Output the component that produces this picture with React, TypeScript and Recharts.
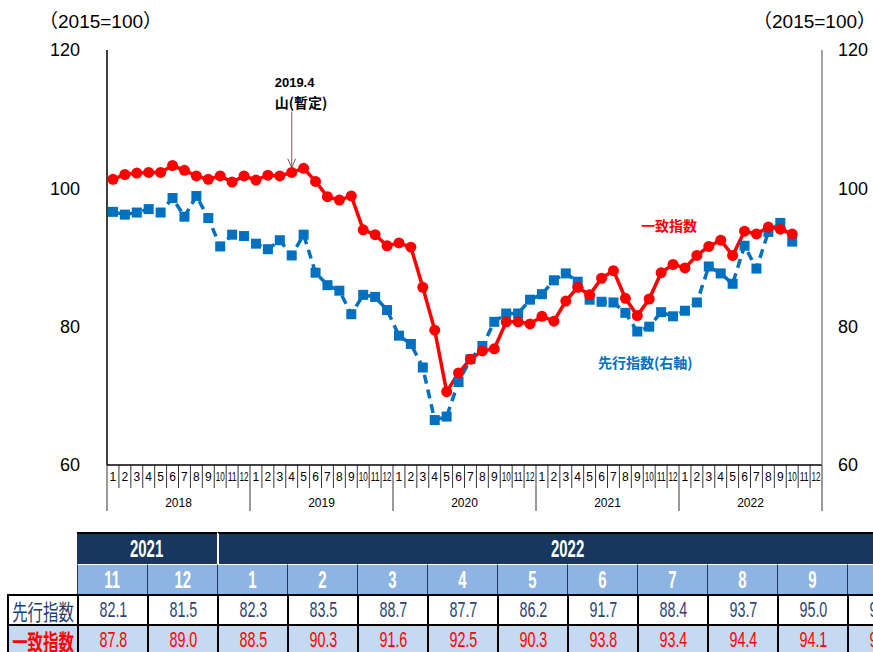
import { Line, LineChart, ReferenceDot, XAxis, YAxis } from 'recharts';

const years = [2018, 2019, 2020, 2021, 2022];
const monthNumbers = [1, 2, 3, 4, 5, 6, 7, 8, 9, 10, 11, 12];

// 一致指数 (left axis)
const coincident2018 = [101.3, 102.0, 102.2, 102.3, 102.3, 103.3, 102.6, 101.8, 101.3, 101.8, 100.9, 101.8];
const coincident2019 = [101.2, 101.9, 101.8, 102.3, 102.9, 101.0, 98.8, 98.3, 98.9, 94.0, 93.3, 91.7];
const coincident2020 = [92.1, 91.5, 85.7, 79.5, 70.6, 73.3, 75.3, 76.5, 76.8, 80.7, 80.7, 80.4];
const coincident2021 = [81.5, 80.8, 83.7, 85.7, 84.6, 87.0, 88.1, 84.1, 81.6, 84.0, 87.8, 89.0];
const coincident2022 = [88.5, 90.3, 91.6, 92.5, 90.3, 93.8, 93.4, 94.4, 94.1, 93.4];

// 先行指数 (right axis)
const leading2018 = [96.6, 96.2, 96.5, 97.0, 96.5, 98.6, 95.9, 98.9, 95.7, 91.6, 93.3, 93.1];
const leading2019 = [92.0, 91.2, 92.5, 90.3, 93.3, 87.8, 86.0, 85.2, 81.8, 84.6, 84.3, 82.4];
const leading2020 = [78.7, 77.5, 74.1, 66.5, 67.0, 72.0, 75.3, 77.2, 80.7, 81.9, 81.9, 83.9];
const leading2021 = [84.7, 86.7, 87.7, 86.5, 83.9, 83.6, 83.5, 82.0, 79.3, 80.0, 82.1, 81.5];
const leading2022 = [82.3, 83.5, 88.7, 87.7, 86.2, 91.7, 88.4, 93.7, 95.0, 92.3];

const yTicks = [60, 80, 100, 120];

const tableYears = [
  { label: '2021', span: 2 },
  { label: '2022', span: 10 },
];
const tableMonths = ['11', '12', '1', '2', '3', '4', '5', '6', '7', '8', '9', '10'];

const coincidentAll = [...coincident2018, ...coincident2019, ...coincident2020, ...coincident2021, ...coincident2022];
const leadingAll = [...leading2018, ...leading2019, ...leading2020, ...leading2021, ...leading2022];

const chartData = years.flatMap((year, yi) =>
  monthNumbers.map((month, mi) => {
    const i = yi * 12 + mi;
    return {
      key: `${year}-${month}`,
      coincident: coincidentAll[i] ?? null,
      leading: leadingAll[i] ?? null,
    };
  }),
);

const tableLeading = leadingAll.slice(-12);
const tableCoincident = coincidentAll.slice(-12);

const CHART_W = 873;
const CHART_H = 525;
const Y_LEFT_W = 107;
const Y_RIGHT_W = 51;
const BAND = (CHART_W - Y_LEFT_W - Y_RIGHT_W) / chartData.length;

const RED = '#ff0000';
const BLUE = '#0070c0';
const LATIN = '"Liberation Sans", Arial, "Noto Sans CJK JP", sans-serif';
const CJK = '"Noto Sans CJK JP", sans-serif';

function MonthTick(props: any) {
  const { x, y, payload } = props;
  const [year, month] = String(payload.value).split('-').map(Number);
  const left = x - BAND / 2;
  const isLast = year === years[years.length - 1] && month === 12;
  return (
    <g>
      <line x1={left} x2={left} y1={y} y2={y + (month === 1 ? 46 : 23)} stroke="#000" strokeWidth={0.8} />
      {isLast && <line x1={x + BAND / 2} x2={x + BAND / 2} y1={y} y2={y + 46} stroke="#000" strokeWidth={0.8} />}
      <text
        x={x}
        y={y + 16}
        textAnchor="middle"
        fontSize={12}
        fontFamily={LATIN}
        fill="#000"
        {...(month >= 10 ? { textLength: 9, lengthAdjust: 'spacingAndGlyphs' } : {})}
      >
        {month}
      </text>
      {month === 6 && (
        <text x={x + BAND / 2} y={y + 42} textAnchor="middle" fontSize={12} fontFamily={LATIN} fill="#000">
          {year}
        </text>
      )}
    </g>
  );
}

function SquareDot(props: any) {
  const { cx, cy, index } = props;
  if (cx == null || cy == null || props.value == null) return <g key={`s${index}`} />;
  return <rect key={`s${index}`} x={cx - 5} y={cy - 5} width={10} height={10} fill={BLUE} />;
}

function CircleDot(props: any) {
  const { cx, cy, index } = props;
  if (cx == null || cy == null || props.value == null) return <g key={`c${index}`} />;
  return <circle key={`c${index}`} cx={cx} cy={cy} r={5.5} fill={RED} />;
}

function PeakMarker(props: any) {
  const { cx, cy } = props;
  return (
    <g>
      <line x1={cx} x2={cx} y1={cy - 56} y2={cy} stroke="#553333" strokeWidth={0.8} />
      <polyline points={`${cx - 4},${cy - 9} ${cx},${cy} ${cx + 4},${cy - 9}`} fill="none" stroke="#553333" strokeWidth={0.8} />
      <text x={cx - 17} y={cy - 81} fontSize={13} fontWeight="bold" fontFamily={LATIN} fill="#000">
        2019.4
      </text>
      <text x={cx - 17} y={cy - 60} fontSize={14} fontWeight="bold" fontFamily={CJK} fill="#000">
        山(暫定)
      </text>
    </g>
  );
}

function SeriesLabel(text: string, color: string, dx: number) {
  return (props: any) => (
    <text
      x={props.cx + dx}
      y={props.cy}
      textAnchor="middle"
      dominantBaseline="central"
      fontSize={14}
      fontWeight="bold"
      fontFamily={CJK}
      fill={color}
    >
      {text}
    </text>
  );
}

const COL0 = 77;
const COL_W = 70;
const ROWS = [532, 564, 594, 624];

function narrow(text: string, scale = 0.65) {
  return <span style={{ display: 'inline-block', transform: `scaleX(${scale})` }}>{text}</span>;
}

function DataTable() {
  const cell = (left: number, top: number, width: number, height: number, style: any, content: any, key: string) => (
    <div
      key={key}
      style={{
        position: 'absolute',
        left,
        top,
        width,
        height,
        boxSizing: 'border-box',
        display: 'flex',
        alignItems: 'center',
        justifyContent: 'center',
        whiteSpace: 'nowrap',
        overflow: 'hidden',
        ...style,
      }}
    >
      {content}
    </div>
  );

  let start = 0;
  const yearCells = tableYears.map((y) => {
    const el = cell(
      COL0 + start * COL_W,
      ROWS[0],
      y.span * COL_W,
      32,
      {
        background: '#17375e',
        color: '#fff',
        borderTop: '2px solid #000',
        borderLeft: start > 0 ? '2px solid #fff' : 'none',
        fontFamily: LATIN,
        fontWeight: 'bold',
        fontSize: 23,
      },
      narrow(y.label),
      `y${y.label}`,
    );
    start += y.span;
    return el;
  });

  return (
    <div style={{ position: 'absolute', left: 0, top: 0, width: CHART_W, height: 652, overflow: 'hidden' }}>
      {yearCells}
      {tableMonths.map((m, i) =>
        cell(
          COL0 + i * COL_W,
          ROWS[1],
          COL_W,
          31,
          {
            background: '#8db4e2',
            color: '#fff',
            borderTop: '1px solid #fff',
            borderLeft: '1px solid #1f3864',
            fontFamily: LATIN,
            fontWeight: 'bold',
            fontSize: 23,
          },
          narrow(m),
          `m${i}`,
        ),
      )}
      {cell(
        7,
        ROWS[2],
        COL_W + 2,
        32,
        { background: '#fff', border: '2px solid #000', color: '#1f3c6e', fontFamily: CJK, fontSize: 22 },
        narrow('先行指数', 0.7),
        'l1',
      )}
      {cell(
        7,
        ROWS[3],
        COL_W + 2,
        32,
        { background: '#c5d9f1', border: '2px solid #000', color: RED, fontFamily: CJK, fontSize: 22, fontWeight: 'bold' },
        narrow('一致指数', 0.7),
        'l2',
      )}
      {tableLeading.map((v, i) =>
        cell(
          COL0 + i * COL_W,
          ROWS[2],
          COL_W + 2,
          32,
          { background: '#fff', border: '2px solid #000', color: '#2e4672', fontFamily: LATIN, fontSize: 22 },
          narrow(v.toFixed(1)),
          `v1${i}`,
        ),
      )}
      {tableCoincident.map((v, i) =>
        cell(
          COL0 + i * COL_W,
          ROWS[3],
          COL_W + 2,
          32,
          { background: '#c5d9f1', border: '2px solid #000', color: RED, fontFamily: LATIN, fontSize: 22 },
          narrow(v.toFixed(1)),
          `v2${i}`,
        ),
      )}
    </div>
  );
}

export default function App() {
  return (
    <div
      style={{
        position: 'absolute',
        left: 0,
        top: 0,
        width: CHART_W,
        height: 652,
        background: '#fff',
        overflow: 'hidden',
        fontFamily: LATIN,
      }}
    >
      <div style={{ position: 'absolute', left: 39, top: 6, fontSize: 19, fontFamily: LATIN, whiteSpace: 'nowrap' }}>
        （2015=100）
      </div>
      <div style={{ position: 'absolute', left: 753, top: 6, fontSize: 19, fontFamily: LATIN, whiteSpace: 'nowrap' }}>
        （2015=100）
      </div>
      <LineChart width={CHART_W} height={CHART_H} data={chartData} margin={{ top: 50, right: 0, bottom: 0, left: 0 }}>
        <XAxis
          dataKey="key"
          scale="band"
          interval={0}
          height={60}
          tickSize={0}
          tickMargin={0}
          axisLine={{ stroke: '#000', strokeWidth: 1.5 }}
          tick={(p: any) => <MonthTick {...p} />}
        />
        <XAxis
          xAxisId="top"
          dataKey="key"
          scale="band"
          orientation="top"
          height={0}
          tick={false}
          tickLine={false}
          axisLine={{ stroke: '#777', strokeWidth: 1.5 }}
        />
        <YAxis
          yAxisId="left"
          domain={[60, 120]}
          ticks={yTicks}
          width={Y_LEFT_W}
          tickSize={0}
          tickMargin={27}
          axisLine={{ stroke: '#000', strokeWidth: 1.5 }}
          tick={{ fill: '#000', fontSize: 18, fontFamily: LATIN }}
        />
        <YAxis
          yAxisId="right"
          orientation="right"
          domain={[60, 120]}
          ticks={yTicks}
          width={Y_RIGHT_W}
          tickSize={0}
          tickMargin={16}
          axisLine={{ stroke: '#888', strokeWidth: 1.5 }}
          tick={{ fill: '#000', fontSize: 18, fontFamily: LATIN }}
        />
        <Line
          yAxisId="right"
          dataKey="leading"
          stroke={BLUE}
          strokeWidth={3.5}
          strokeDasharray="9 6"
          dot={(p: any) => <SquareDot {...p} />}
          activeDot={false}
          isAnimationActive={false}
        />
        <Line
          yAxisId="left"
          dataKey="coincident"
          stroke={RED}
          strokeWidth={3.5}
          dot={(p: any) => <CircleDot {...p} />}
          activeDot={false}
          isAnimationActive={false}
        />
        <ReferenceDot yAxisId="left" x="2019-4" y={103} shape={(p: any) => <PeakMarker {...p} />} />
        <ReferenceDot yAxisId="left" x="2021-11" y={94.7} shape={SeriesLabel('一致指数', RED, 8)} />
        <ReferenceDot yAxisId="right" x="2021-9" y={74.9} shape={SeriesLabel('先行指数(右軸)', BLUE, 8)} />
      </LineChart>
      <DataTable />
    </div>
  );
}
